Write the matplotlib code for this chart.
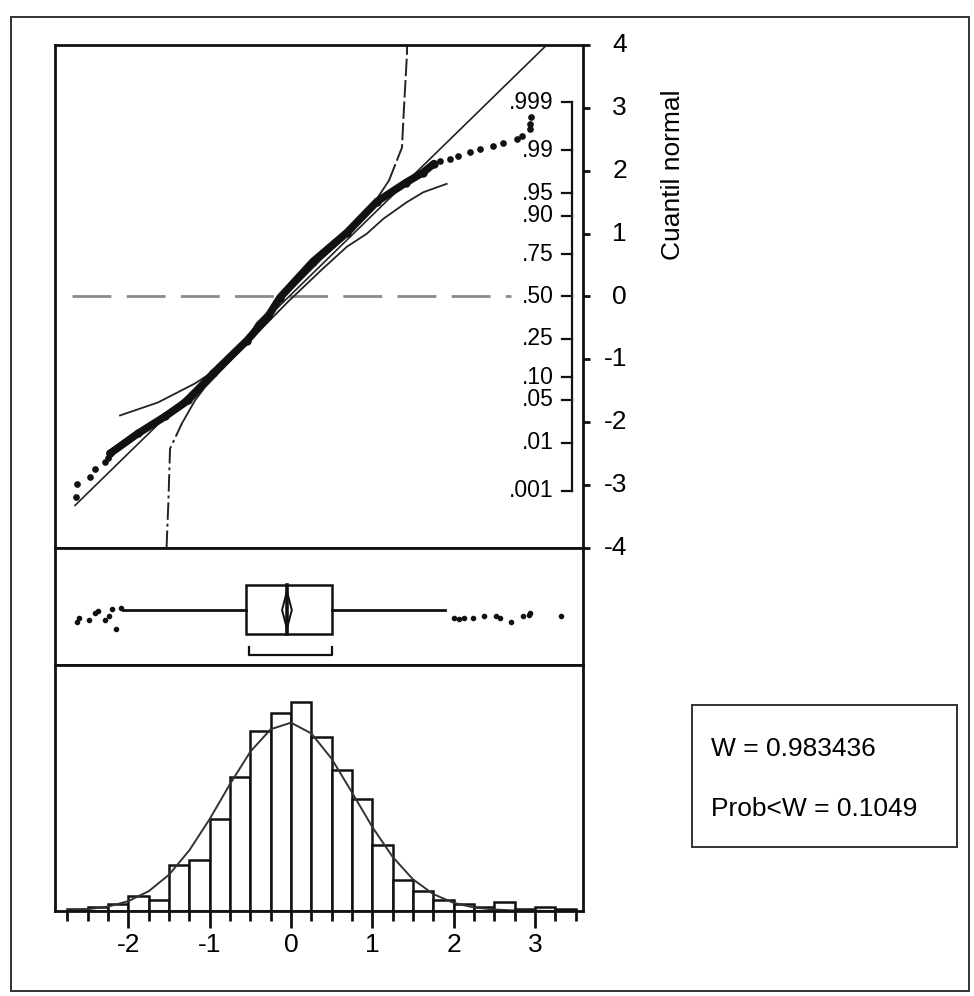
import matplotlib
matplotlib.use("Agg")
import matplotlib.pyplot as plt
from matplotlib.patches import Rectangle, Polygon

plt.rcParams['font.family'] = ['Liberation Sans', 'DejaVu Sans']

# ---- histogram (bin width .25) ----
bin_left = [-2.75, -2.5, -2.25, -2.0, -1.75, -1.5, -1.25, -1.0, -0.75, -0.5, -0.25, 0.0,
            0.25, 0.5, 0.75, 1.0, 1.25, 1.5, 1.75, 2.0, 2.25, 2.5, 2.75, 3.0, 3.25]
bin_counts = [1, 2, 3, 7, 5, 21, 23, 42, 61, 82, 90, 95,
              79, 64, 51, 30, 14, 9, 5, 3, 2, 4, 1, 2, 1]
curve_x = [-2.75, -2.5, -2.25, -2.0, -1.75, -1.5, -1.25, -1.0, -0.75, -0.5, -0.25, 0.0, 0.25,
           0.5, 0.75, 1.0, 1.25, 1.5, 1.75, 2.0, 2.25, 2.5, 2.75, 3.0, 3.25, 3.5]
curve_y = [0.3, 0.8, 2.0, 4.5, 9.0, 16.5, 27.6, 41.8, 57.7, 72.4, 82.6, 85.6, 80.7,
           69.2, 53.9, 38.2, 24.6, 14.4, 7.7, 3.7, 1.6, 0.7, 0.2, 0.1, 0.0, 0.0]
hist_ticks = [-2, -1, 0, 1, 2, 3]
hist_minor = [-2.75, -2.5, -2.25, -1.75, -1.5, -1.25, -0.75, -0.5, -0.25, 0.25, 0.5, 0.75,
              1.25, 1.5, 1.75, 2.25, 2.5, 2.75, 3.25, 3.5]

# ---- normal quantile plot ----
qq_low_x = [-2.648, -2.636, -2.472, -2.411, -2.288, -2.247]
qq_low_y = [-3.191, -2.978, -2.873, -2.739, -2.634, -2.564]
band_x = [-2.226, -1.882, -1.550, -1.267, -0.959, -0.541, -0.283, -0.135, 0.271, 0.689,
          1.058, 1.415, 1.624, 1.759]
band_y = [-2.496, -2.178, -1.908, -1.653, -1.224, -0.700, -0.318, -0.016, 0.556, 1.017,
          1.510, 1.812, 1.971, 2.114]
qq_high_x = [1.833, 1.956, 2.058, 2.202, 2.325, 2.488, 2.611, 2.776, 2.838, 2.940, 2.940, 2.948]
qq_high_y = [2.162, 2.189, 2.242, 2.305, 2.348, 2.389, 2.437, 2.507, 2.560, 2.666, 2.746, 2.851]
fit_x = [-2.657, 3.137]
fit_y = [-3.323, 3.99]
# confidence bounds
bnd_a_solid_x = [-2.103, -1.636, -1.181, -0.935, -0.627, -0.42, -0.03, 0.37, 0.763, 0.984, 1.205]
bnd_a_solid_y = [-1.892, -1.685, -1.383, -1.176, -0.859, -0.42, 0.07, 0.59, 1.049, 1.415, 1.844]
bnd_a_dash_x = [1.205, 1.365, 1.390, 1.427, 1.427]
bnd_a_dash_y = [1.844, 2.369, 3.005, 3.863, 4.0]
bnd_b_dash_x = [-1.531, -1.509, -1.488, -1.344]
bnd_b_dash_y = [-4.0, -3.296, -2.421, -2.024]
bnd_b_solid_x = [-1.344, -1.181, -1.058, -0.42, -0.03, 0.37, 0.688, 0.931, 1.135, 1.423, 1.627, 1.915]
bnd_b_solid_y = [-2.024, -1.653, -1.442, -0.587, -0.075, 0.417, 0.792, 0.997, 1.235, 1.499, 1.658, 1.792]
prob_labels = ['.001', '.01', '.05', '.10', '.25', '.50', '.75', '.90', '.95', '.99', '.999']
prob_pos = [-3.090, -2.326, -1.645, -1.282, -0.674, 0.0, 0.674, 1.282, 1.645, 2.326, 3.090]
quant_ticks = [-4, -3, -2, -1, 0, 1, 2, 3, 4]

# ---- outlier box plot ----
q1, med, q3 = -0.557, -0.053, 0.50
mean = -0.05
whisk_lo, whisk_hi = -2.066, 1.894
short_lo, short_hi = -0.517, 0.504
out_lo_x = [-2.635, -2.613, -2.481, -2.416, -2.372, -2.283, -2.240, -2.196, -2.151, -2.086]
out_lo_y = [0.369, 0.400, 0.385, 0.445, 0.461, 0.385, 0.415, 0.476, 0.309, 0.491]
out_hi_x = [2.000, 2.066, 2.132, 2.241, 2.373, 2.526, 2.571, 2.702, 2.856, 2.923, 2.945, 3.317]
out_hi_y = [0.400, 0.394, 0.400, 0.400, 0.415, 0.415, 0.400, 0.369, 0.415, 0.431, 0.445, 0.415]

stat_lines = ['W = 0.983436', 'Prob<W = 0.1049']

W, H = 974, 996
XLIM = (-2.903, 3.592)
INK = '#111111'
FS = 19


def fig_rect(left, top, right, bottom):
    return [left / W, 1 - bottom / H, (right - left) / W, (bottom - top) / H]


fig = plt.figure(figsize=(W / 100, H / 100), dpi=100)

# outer frame
fig.add_artist(Rectangle((11 / W, 1 - 991 / H), 958 / W, 974 / H, fill=False,
                         lw=1.4, edgecolor='#333333', transform=fig.transFigure))

ax1 = fig.add_axes(fig_rect(55, 45, 583, 548))
ax2 = fig.add_axes(fig_rect(55, 548, 583, 665))
ax3 = fig.add_axes(fig_rect(55, 665, 583, 911))

for ax in (ax1, ax2, ax3):
    ax.set_xlim(*XLIM)
    for s in ax.spines.values():
        s.set_linewidth(2)
        s.set_color(INK)

# ---------- quantile plot ----------
ax1.set_ylim(-4, 4)
ax1.set_xticks([])
ax1.yaxis.set_ticks_position('right')
ax1.set_yticks(quant_ticks)
ax1.set_yticklabels([])
ax1.tick_params(axis='y', direction='out', length=5, width=2, color=INK)
ytr = ax1.get_yaxis_transform()
for v in quant_ticks:
    ax1.text(1.0833, v, str(v), transform=ytr, ha='right', va='center', fontsize=FS,
             clip_on=False)

ax1.plot([-2.694, 2.706], [0, 0], color='#8a8a8a', lw=2, dashes=(14, 5.5))
ax1.plot(fit_x, fit_y, color='#222222', lw=1.2)
ax1.plot(bnd_a_solid_x, bnd_a_solid_y, color='#222222', lw=1.3)
ax1.plot(bnd_a_dash_x, bnd_a_dash_y, color='#222222', lw=1.4, dashes=(9, 2))
ax1.plot(bnd_b_solid_x, bnd_b_solid_y, color='#222222', lw=1.3)
ax1.plot(bnd_b_dash_x, bnd_b_dash_y, color='#222222', lw=1.4, dashes=(9, 2, 1.5, 2))
ax1.plot(band_x, band_y, color=INK, lw=5.5, solid_capstyle='round', marker='o', ms=5)
ax1.plot(qq_low_x, qq_low_y, 'o', color=INK, ms=3.8)
ax1.plot(qq_high_x, qq_high_y, 'o', color=INK, ms=3.8)

# probability scale
ax1.plot([3.453, 3.453], [prob_pos[0], prob_pos[-1]], color=INK, lw=1.6, clip_on=False)
for lab, p in zip(prob_labels, prob_pos):
    ax1.plot([3.333, 3.453], [p, p], color=INK, lw=1.6)
    ax1.text(3.235, p, lab, ha='right', va='center', fontsize=16.5)

fig.text(673 / W, 1 - 175 / H, 'Cuantil normal', rotation=90, ha='center', va='center',
         fontsize=19)

# ---------- box plot ----------
ax2.set_ylim(0, 1)
ax2.set_xticks([])
ax2.set_yticks([])
ax2.add_patch(Rectangle((q1, 0.265), q3 - q1, 0.684 - 0.265, fill=False, lw=1.8,
                        edgecolor=INK))
ax2.plot([med, med], [0.265, 0.684], color=INK, lw=2.6)
ax2.plot([whisk_lo, q1], [0.47, 0.47], color=INK, lw=2)
ax2.plot([q3, whisk_hi], [0.47, 0.47], color=INK, lw=2)
ax2.add_patch(Polygon([(mean, 0.31), (mean + 0.06, 0.47), (mean, 0.63), (mean - 0.06, 0.47)],
                      closed=True, fill=False, lw=1.4, edgecolor=INK))
ax2.plot([short_lo, short_lo, short_hi, short_hi], [0.154, 0.085, 0.085, 0.154],
         color=INK, lw=1.6)
ax2.plot(out_lo_x, out_lo_y, 'o', color=INK, ms=3)
ax2.plot(out_hi_x, out_hi_y, 'o', color=INK, ms=3)

# ---------- histogram ----------
ax3.set_ylim(0, 111.8)
ax3.set_yticks([])
ax3.bar(bin_left, bin_counts, width=0.25, align='edge', facecolor='white',
        edgecolor=INK, lw=1.8)
ax3.plot(curve_x, curve_y, color='#333333', lw=1.4)
ax3.set_xticks(hist_ticks)
ax3.set_xticks(hist_minor, minor=True)
ax3.set_xticklabels([])
ax3.tick_params(axis='x', which='major', direction='out', length=12, width=2, color=INK)
ax3.tick_params(axis='x', which='minor', direction='out', length=7, width=2, color=INK)
xtr = ax3.get_xaxis_transform()
for v in hist_ticks:
    ax3.text(v, -0.138, str(v), transform=xtr, ha='center', va='center', fontsize=FS,
             clip_on=False)

# ---------- statistics box ----------
fig.add_artist(Rectangle((692 / W, 1 - 847 / H), 265 / W, 142 / H, fill=False, lw=1.4,
                         edgecolor='#333333', transform=fig.transFigure))
fig.text(711 / W, 1 - 749 / H, stat_lines[0], ha='left', va='center', fontsize=FS)
fig.text(711 / W, 1 - 809 / H, stat_lines[1], ha='left', va='center', fontsize=FS)

fig.savefig('out.png', dpi=100)
